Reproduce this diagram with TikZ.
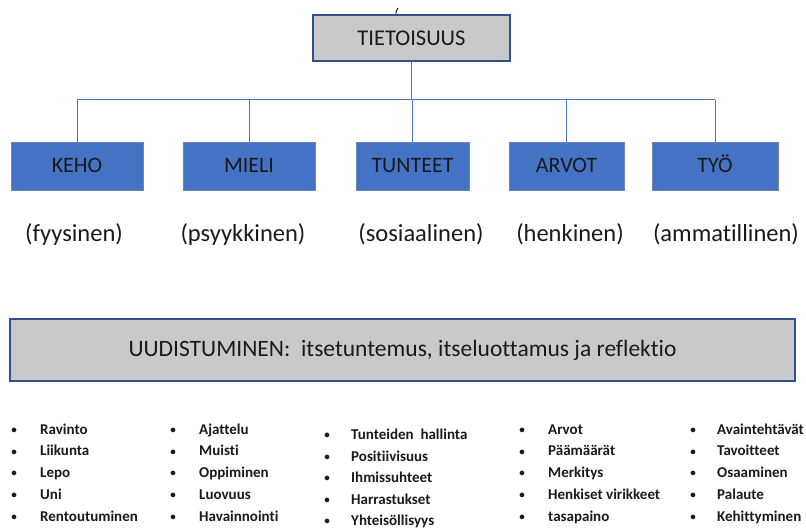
\documentclass[tikz,border=0pt]{standalone}
\usepackage{fontspec}
\setmainfont[Ligatures=NoCommon]{Carlito}
\definecolor{boxblue}{HTML}{4472C4}
\definecolor{edgeblue}{HTML}{2F528F}
\definecolor{boxgray}{HTML}{C9C9C9}
\definecolor{linkblue}{HTML}{4A76C8}
\definecolor{ink}{HTML}{1A1A1A}
\begin{document}
\begin{tikzpicture}[x=1pt,y=-1pt,
  topbox/.style={draw=edgeblue,line width=1.2pt,fill=boxgray,minimum width=197pt,minimum height=46pt,inner sep=0pt,text=ink,text height=14.5pt,text depth=0pt,font=\fontsize{22.5}{26}\selectfont},
  areabox/.style={draw=edgeblue!70,line width=0.6pt,fill=boxblue,minimum height=48pt,inner sep=0pt,text=ink,text height=14pt,text depth=0pt,font=\fontsize{22}{26}\selectfont},
  sublabel/.style={font=\fontsize{24.5}{28}\selectfont,inner sep=0pt,text=ink,text height=17pt,text depth=5pt},
  wide/.style={draw=edgeblue,line width=1.2pt,fill=boxgray,minimum width=785pt,minimum height=62pt,inner sep=0pt,text=ink,font=\fontsize{23.5}{27}\selectfont},
  link/.style={draw=linkblue,line width=1pt},
  item/.style={anchor=west,inner sep=0pt,text=ink,text height=10pt,text depth=3pt,font=\fontsize{15}{18}\bfseries\selectfont},
  dot/.style={inner sep=0pt,text=ink,font=\fontsize{11}{13}\bfseries\selectfont}
]
\useasboundingbox (0,0) rectangle (806,529);

% top node and its stray mark
\draw[line width=0.9pt] (396,15) .. controls (396,11) .. (398,8);
\node[topbox] (top) at (411.5,38) {TIETOISUUS};

% five areas
\node[areabox,minimum width=132pt] (keho) at (77,166) {KEHO};
\node[areabox,minimum width=132pt] (mieli) at (249,166) {MIELI};
\node[areabox,minimum width=113pt] (tunteet) at (412.5,166) {TUNTEET};
\node[areabox,minimum width=115pt] (arvot) at (566.5,166) {ARVOT};
\node[areabox,minimum width=126pt] (tyo) at (715,166) {TYÖ};

% connectors through a common bar
\coordinate (bar) at (0,100);
\draw[link] (top.south) -- (top.south |- bar);
\draw[link] (keho.north |- bar) -- (tyo.north |- bar);
\foreach \n in {keho,mieli,tunteet,arvot,tyo}
  \draw[link] (\n.north |- bar) -- (\n.north);

% descriptions
\node[sublabel] (d1) at (74,236) {(fyysinen)};
\node[sublabel] (d2) at (243,236) {(psyykkinen)};
\node[sublabel] (d3) at (421,236) {(sosiaalinen)};
\node[sublabel] (d4) at (570,236) {(henkinen)};
\node[sublabel] (d5) at (726,236) {(ammatillinen)};

% renewal bar
\node[wide] (renew) at (402.5,350) {UUDISTUMINEN:\ \ itsetuntemus, itseluottamus ja reflektio};

% item lists
\foreach \t [count=\i] in {Ravinto,Liikunta,Lepo,Uni,Rentoutuminen}{
  \node[dot] (a\i d) at (14,{409+21.7*\i}) {•};
  \node[item] (a\i) at (40,{409+21.7*\i}) {\t};}
\foreach \t [count=\i] in {Ajattelu,Muisti,Oppiminen,Luovuus,Havainnointi}{
  \node[dot] (b\i d) at (173,{409+21.7*\i}) {•};
  \node[item] (b\i) at (199,{409+21.7*\i}) {\t};}
\foreach \t [count=\i] in {Tunteiden\ \ hallinta,Positiivisuus,Ihmissuhteet,Harrastukset,Yhteisöllisyys}{
  \node[dot] (c\i d) at (327,{414.5+21.5*\i}) {•};
  \node[item] (c\i) at (351,{414.5+21.5*\i}) {\t};}
\foreach \t [count=\i] in {Arvot,Päämäärät,Merkitys,Henkiset\ virikkeet,tasapaino}{
  \node[dot] (e\i d) at (522,{409+21.7*\i}) {•};
  \node[item] (e\i) at (548,{409+21.7*\i}) {\t};}
\foreach \t [count=\i] in {Avaintehtävät,Tavoitteet,Osaaminen,Palaute,Kehittyminen}{
  \node[dot] (f\i d) at (693,{409+21.7*\i}) {•};
  \node[item] (f\i) at (717,{409+21.7*\i}) {\t};}
\end{tikzpicture}
\end{document}
